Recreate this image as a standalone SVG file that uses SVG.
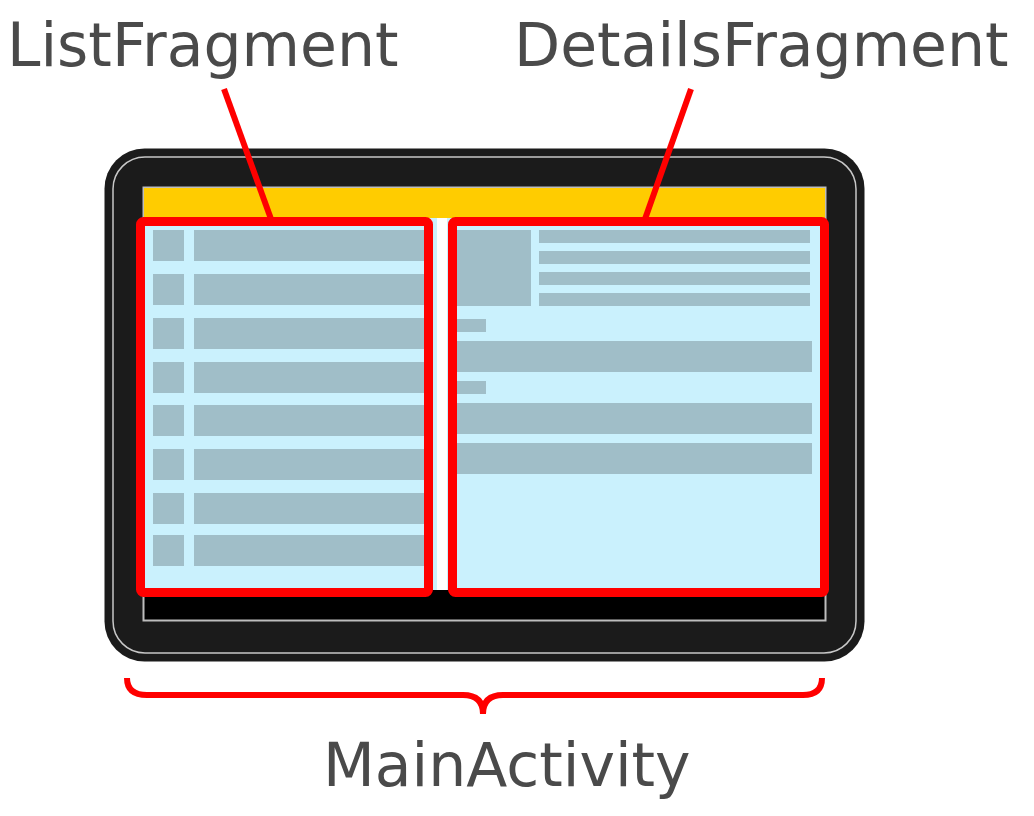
<svg xmlns="http://www.w3.org/2000/svg" width="1034" height="816" viewBox="0 0 1034 816">
<style>
.lbl{font-family:"DejaVu Sans",sans-serif;font-size:60px;fill:#4a4a4a}
.bar{fill:#a0bec8}
.hl{fill:none;stroke:#ff0000;stroke-width:9;stroke-linejoin:round}
.ln{fill:none;stroke:#ff0000;stroke-width:6}
</style>
<rect width="1034" height="816" fill="#ffffff"/>
<g id="device">
<rect x="104.5" y="148.5" width="760" height="513" rx="40" fill="#1b1b1b"/>
<rect x="113" y="157" width="743" height="496" rx="32" fill="none" stroke="#c8c8c8" stroke-width="1.5"/>
<rect x="143.5" y="187.5" width="682" height="433" fill="#000000" stroke="#bdbdbd" stroke-width="2"/>
<rect x="144" y="188" width="681" height="30" fill="#ffcc00"/>
<rect x="144" y="218" width="681" height="372" fill="#ffffff"/>
<rect x="144" y="218" width="293" height="372" fill="#caf1fd"/>
<rect x="447" y="218" width="378" height="372" fill="#caf1fd"/>
</g>
<g id="list-content">
<rect class="bar" x="153" y="230" width="31" height="31"/><rect class="bar" x="194" y="230" width="232" height="31"/>
<rect class="bar" x="153" y="274" width="31" height="31"/><rect class="bar" x="194" y="274" width="232" height="31"/>
<rect class="bar" x="153" y="318" width="31" height="31"/><rect class="bar" x="194" y="318" width="232" height="31"/>
<rect class="bar" x="153" y="362" width="31" height="31"/><rect class="bar" x="194" y="362" width="232" height="31"/>
<rect class="bar" x="153" y="405" width="31" height="31"/><rect class="bar" x="194" y="405" width="232" height="31"/>
<rect class="bar" x="153" y="449" width="31" height="31"/><rect class="bar" x="194" y="449" width="232" height="31"/>
<rect class="bar" x="153" y="493" width="31" height="31"/><rect class="bar" x="194" y="493" width="232" height="31"/>
<rect class="bar" x="153" y="535" width="31" height="31"/><rect class="bar" x="194" y="535" width="232" height="31"/>
</g>
<g id="details-content">
<rect class="bar" x="452" y="230" width="79" height="76"/>
<rect class="bar" x="539" y="230" width="271" height="13"/>
<rect class="bar" x="539" y="251" width="271" height="13"/>
<rect class="bar" x="539" y="272" width="271" height="13"/>
<rect class="bar" x="539" y="293" width="271" height="13"/>
<rect class="bar" x="452" y="319" width="34" height="13"/>
<rect class="bar" x="452" y="341" width="360" height="31"/>
<rect class="bar" x="452" y="381" width="34" height="13"/>
<rect class="bar" x="452" y="403" width="360" height="31"/>
<rect class="bar" x="452" y="443" width="360" height="31"/>
</g>
<g id="ListFragment">
<rect class="hl" x="140.5" y="221.5" width="288" height="371" rx="3"/>
<text class="lbl" x="7" y="66">ListFragment</text>
</g>
<g id="DetailsFragment">
<rect class="hl" x="452.5" y="221.5" width="372" height="371" rx="3"/>
<text class="lbl" x="514" y="66">DetailsFragment</text>
</g>
<g id="MainActivity">
<text class="lbl" x="323" y="786">MainActivity</text>
</g>
<g id="connectors">
<line class="ln" x1="224" y1="89" x2="271" y2="219"/>
<line class="ln" x1="691" y1="89" x2="645" y2="219"/>
<path class="ln" stroke-width="7" d="M127,678 Q127,695 147,695 L463,695 Q483,695 483,714 Q483,695 503,695 L803,695 Q822,695 822,678"/>
</g>
</svg>
